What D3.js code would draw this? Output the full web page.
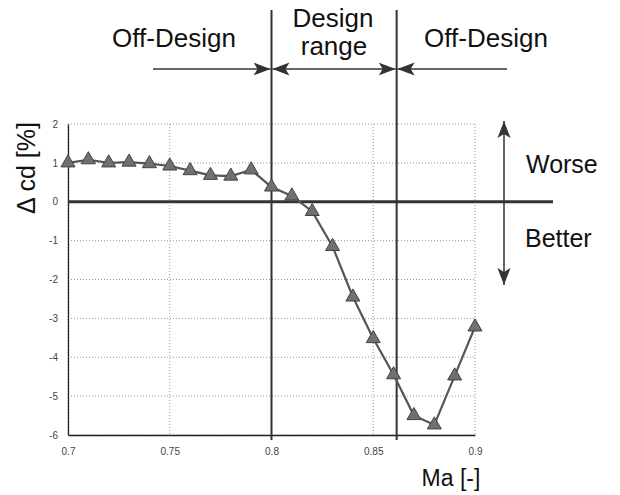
<!DOCTYPE html>
<html>
<head>
<meta charset="utf-8">
<script src="https://cdn.jsdelivr.net/npm/d3@7"></script>
<style>
  body { margin: 0; background: #fff; }
  svg { font-family: "Liberation Sans", Arial, sans-serif; }
</style>
</head>
<body>
<div id="vis"></div>
<script>
// Drag change vs Mach number, with design range marked

const FRAME_WIDTH = 620;
const FRAME_HEIGHT = 495;
const MARGINS = {left: 68, right: 145, top: 124, bottom: 60};

// Data
const MACH = [0.70, 0.71, 0.72, 0.73, 0.74, 0.75, 0.76, 0.77, 0.78, 0.79, 0.80,
              0.81, 0.82, 0.83, 0.84, 0.85, 0.86, 0.87, 0.88, 0.89, 0.90];
const DELTA_CD = [1.0, 1.08, 1.0, 1.02, 0.98, 0.92, 0.8, 0.68, 0.66, 0.82, 0.38,
                  0.15, -0.25, -1.15, -2.45, -3.52, -4.45, -5.5, -5.74, -4.48, -3.22];
const X_TICKS = [0.7, 0.75, 0.8, 0.85, 0.9];
const Y_TICKS = [2, 1, 0, -1, -2, -3, -4, -5, -6];
const DESIGN_BOUNDS = [0.8, 0.8615];

const VIS_WIDTH = FRAME_WIDTH - MARGINS.left - MARGINS.right;
const VIS_HEIGHT = FRAME_HEIGHT - MARGINS.top - MARGINS.bottom;

const svg = d3.select("#vis").append("svg")
    .attr("width", FRAME_WIDTH)
    .attr("height", FRAME_HEIGHT);

// Filled arrowhead, slightly notched
svg.append("defs").append("marker")
    .attr("id", "arrow")
    .attr("viewBox", "0 0 17 14")
    .attr("refX", 17).attr("refY", 7)
    .attr("markerUnits", "userSpaceOnUse")
    .attr("markerWidth", 17).attr("markerHeight", 14)
    .attr("orient", "auto-start-reverse")
  .append("path")
    .attr("d", "M0,0.5 L17,7 L0,13.5 L4,7 Z")
    .attr("fill", "#333");

const xScale = d3.scaleLinear().domain([0.7, 0.9]).range([0, VIS_WIDTH]);
const yScale = d3.scaleLinear().domain([-6, 2]).range([VIS_HEIGHT, 0]);

const g = svg.append("g")
    .attr("transform", "translate(" + MARGINS.left + "," + MARGINS.top + ")");

// Grid lines
g.selectAll(".hgrid").data(Y_TICKS).enter().append("line")
    .attr("x1", 0).attr("x2", VIS_WIDTH)
    .attr("y1", d => yScale(d)).attr("y2", d => yScale(d))
    .attr("stroke", "#999").attr("stroke-width", 1)
    .attr("stroke-dasharray", "1,2");

g.selectAll(".vgrid").data(X_TICKS).enter().append("line")
    .attr("x1", d => xScale(d)).attr("x2", d => xScale(d))
    .attr("y1", 0).attr("y2", VIS_HEIGHT)
    .attr("stroke", "#999").attr("stroke-width", 1)
    .attr("stroke-dasharray", "1,2");

// Axes (hyphen for minus, like the original)
const hyphen = d => String(d).replace("\u2212", "-");
const xAxis = g.append("g")
    .attr("transform", "translate(0," + VIS_HEIGHT + ")")
    .call(d3.axisBottom(xScale).tickValues(X_TICKS).tickSize(0).tickPadding(13)
        .tickFormat(d => String(d)));
const yAxis = g.append("g")
    .call(d3.axisLeft(yScale).tickValues(Y_TICKS).tickSize(0).tickPadding(10)
        .tickFormat(d => String(d)));

[xAxis, yAxis].forEach(a => {
    a.select(".domain").attr("stroke", "#222").attr("stroke-width", 1.3);
    a.selectAll("text").attr("font-size", "10px").attr("fill", "#444")
        .attr("font-family", "Liberation Sans, Arial, sans-serif");
});

// Zero line
g.append("line")
    .attr("x1", 0).attr("x2", 485)
    .attr("y1", yScale(0)).attr("y2", yScale(0))
    .attr("stroke", "#333").attr("stroke-width", 3);

// Design range boundaries
g.selectAll(".bound").data(DESIGN_BOUNDS).enter().append("line")
    .attr("x1", d => xScale(d)).attr("x2", d => xScale(d))
    .attr("y1", 10 - MARGINS.top).attr("y2", VIS_HEIGHT + 5)
    .attr("stroke", "#333").attr("stroke-width", 2);

// Data line and markers
const line = d3.line()
    .x((d, i) => xScale(MACH[i]))
    .y(d => yScale(d));

g.append("path")
    .datum(DELTA_CD)
    .attr("d", line)
    .attr("fill", "none")
    .attr("stroke", "#555")
    .attr("stroke-width", 2.2);

const tri = d3.symbol().type(d3.symbolTriangle).size(85);
g.selectAll(".pt").data(DELTA_CD).enter().append("path")
    .attr("d", tri)
    .attr("transform", (d, i) => "translate(" + xScale(MACH[i]) + "," + yScale(d) + ")")
    .attr("fill", "#707070")
    .attr("stroke", "#444")
    .attr("stroke-width", 1);

// Range arrows at the top
const arrowY = 69 - MARGINS.top;
const xl = xScale(DESIGN_BOUNDS[0]), xr = xScale(DESIGN_BOUNDS[1]);
const arrows = [
    {x1: 153 - MARGINS.left, x2: xl - 1, start: false},
    {x1: xl + 1, x2: xr - 1, start: true},
    {x1: 507 - MARGINS.left, x2: xr + 1, start: false}
];
g.selectAll(".harrow").data(arrows).enter().append("line")
    .attr("x1", d => d.x1).attr("x2", d => d.x2)
    .attr("y1", arrowY).attr("y2", arrowY)
    .attr("stroke", "#333").attr("stroke-width", 1.5)
    .attr("marker-start", d => d.start ? "url(#arrow)" : null)
    .attr("marker-end", "url(#arrow)");

// Worse / Better arrow
g.append("line")
    .attr("x1", 504 - MARGINS.left).attr("x2", 504 - MARGINS.left)
    .attr("y1", 121 - MARGINS.top).attr("y2", 285 - MARGINS.top)
    .attr("stroke", "#333").attr("stroke-width", 1.5)
    .attr("marker-start", "url(#arrow)")
    .attr("marker-end", "url(#arrow)");

// Annotation text
const labels = [
    {t: "Off-Design", x: 174, y: 47, a: "middle", s: 26},
    {t: "Design", x: 333, y: 27, a: "middle", s: 26},
    {t: "range", x: 334, y: 55, a: "middle", s: 26},
    {t: "Off-Design", x: 486, y: 47, a: "middle", s: 26},
    {t: "Worse", x: 526, y: 173, a: "start", s: 25},
    {t: "Better", x: 525, y: 247, a: "start", s: 25},
    {t: "Ma [-]", x: 451, y: 486, a: "middle", s: 23}
];
svg.selectAll(".lbl").data(labels).enter().append("text")
    .attr("x", d => d.x).attr("y", d => d.y)
    .attr("text-anchor", d => d.a)
    .attr("font-size", d => d.s + "px")
    .attr("fill", "#111")
    .text(d => d.t);

svg.append("text")
    .attr("transform", "translate(35,168) rotate(-90)")
    .attr("text-anchor", "middle")
    .attr("font-size", "25px")
    .attr("fill", "#111")
    .text("\u0394 cd [%]");
</script>
</body>
</html>
